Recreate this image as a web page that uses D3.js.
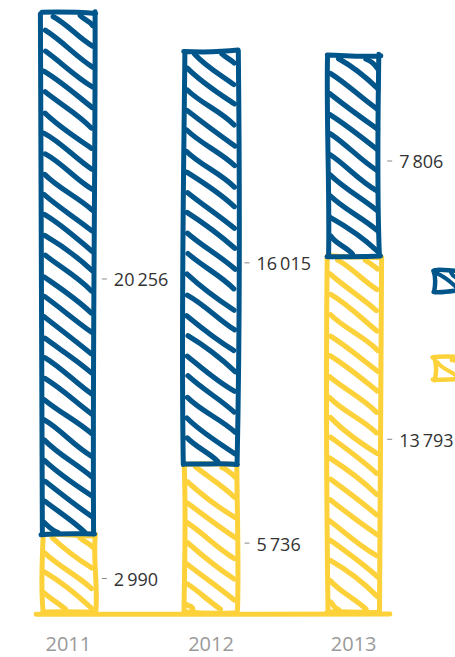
<!DOCTYPE html>
<html><head><meta charset="utf-8">
<script src="https://cdn.jsdelivr.net/npm/d3@7"></script>
<style>
html,body{margin:0;padding:0;background:#fff;overflow:hidden}
svg{display:block}
</style></head>
<body>
<svg id="chart" width="455" height="657"></svg>
<script>
// ---- data ----
const years = ["2011", "2012", "2013"];
const bottomValues = [2990, 5736, 13793];   // yellow series
const topValues = [20256, 16015, 7806];     // blue series
const seriesColors = ["#fcd13a", "#00558b"];

// ---- setup ----
const svg = d3.select("#chart");
const y = d3.scaleLinear().domain([0, 23750]).range([612, 0]);
const x = d3.scaleBand().domain(years).range([-1, 423]).paddingInner(0.628).paddingOuter(0.3);
const fmt = d3.formatLocale({decimal: ",", thousands: "\u2009", grouping: [3], currency: ["", ""]}).format(",d");

// seeded PRNG for hand-drawn wobble
function mulberry32(a){return function(){a|=0;a=a+0x6D2B79F5|0;let t=Math.imul(a^a>>>15,1|a);t=t+Math.imul(t^t>>>7,61|t)^t;return((t^t>>>14)>>>0)/4294967296;}}
const rnd = mulberry32(4242);
const j = (r) => (rnd() * 2 - 1) * r;

function roughLine(x1, y1, x2, y2, r, bow) {
  const ax = x1 + j(r), ay = y1 + j(r), bx = x2 + j(r), by = y2 + j(r);
  const len = Math.hypot(bx - ax, by - ay) || 1;
  const nx = -(by - ay) / len, ny = (bx - ax) / len;
  const b1 = j(bow), b2 = j(bow);
  const c1x = ax + (bx - ax) * 0.33 + nx * b1, c1y = ay + (by - ay) * 0.33 + ny * b1;
  const c2x = ax + (bx - ax) * 0.66 + nx * b2, c2y = ay + (by - ay) * 0.66 + ny * b2;
  return `M${ax.toFixed(1)},${ay.toFixed(1)}C${c1x.toFixed(1)},${c1y.toFixed(1)} ${c2x.toFixed(1)},${c2y.toFixed(1)} ${bx.toFixed(1)},${by.toFixed(1)}`;
}

function roughRect(g, x0, y0, x1, y1, color, sw, hw, vgap) {
  // hatching "\" direction
  const slope = 0.76, inset = 3;
  const ix0 = x0 + inset, ix1 = x1 - inset, iy0 = y0 + inset, iy1 = y1 - inset;
  const w = ix1 - ix0, h = iy1 - iy0;
  let d = "";
  for (let c = -w * slope + vgap * 0.45; c < h; c += vgap) {
    const xs = Math.max(ix0, ix0 + (-c) / slope);
    const xe = Math.min(ix1, ix0 + (h - c) / slope);
    if (xe - xs < 4) continue;
    const ys = iy0 + c + slope * (xs - ix0);
    const ye = iy0 + c + slope * (xe - ix0);
    d += roughLine(xs, ys, xe, ye, 0.8, 3.2);
  }
  g.append("path").attr("d", d).attr("fill", "none").attr("stroke", color)
    .attr("stroke-width", hw).attr("stroke-linecap", "round");
  // outline
  const o = roughLine(x0, y0, x1, y0, 1.5, 2) + roughLine(x1, y0, x1, y1, 1.5, 3) +
            roughLine(x1, y1, x0, y1, 1.5, 2) + roughLine(x0, y1, x0, y0, 1.5, 3);
  g.append("path").attr("d", o).attr("fill", "none").attr("stroke", color)
    .attr("stroke-width", sw).attr("stroke-linecap", "round").attr("stroke-linejoin", "round");
}

const bars = svg.append("g");
const labels = svg.append("g");

years.forEach((yr, i) => {
  const x0 = x(yr), x1 = x(yr) + x.bandwidth();
  const stack = [[0, bottomValues[i]], [bottomValues[i], bottomValues[i] + topValues[i]]];
  const vals = [bottomValues[i], topValues[i]];
  stack.forEach((s, k) => {
    roughRect(bars.append("g"), x0, y(s[1]), x1, y(s[0]), seriesColors[k], 5, 5.2, 20.5);
    const my = (y(s[0]) + y(s[1])) / 2 + 6;
    labels.append("line").attr("x1", x1 + 7).attr("x2", x1 + 12).attr("y1", my - 1).attr("y2", my - 1)
      .attr("stroke", "#888").attr("stroke-width", 1);
    labels.append("text").attr("x", x1 + 19).attr("y", my).attr("dy", "0.36em")
      .attr("font-family", "'Open Sans', sans-serif").attr("font-size", 18).attr("fill", "#333")
      .text(fmt(vals[k]));
  });
});

// x axis (hand-drawn yellow line)
svg.append("path").attr("d", roughLine(36, y(0) + 2, 390, y(0) + 2, 1, 2))
  .attr("fill", "none").attr("stroke", seriesColors[0]).attr("stroke-width", 5).attr("stroke-linecap", "round");

svg.append("g").selectAll("text").data(years).join("text")
  .attr("x", d => x(d) + x.bandwidth() / 2).attr("y", 651)
  .attr("text-anchor", "middle").attr("font-family", "'Open Sans', sans-serif")
  .attr("font-size", 20).attr("fill", "#9a9a9a").text(d => d);

// legend icons (text off-canvas)
const legend = svg.append("g");
[seriesColors[1], seriesColors[0]].forEach((c, i) => {
  roughRect(legend.append("g"), 434, 270 + i * 88, 462, 291 + i * 88, c, 4.5, 4, 12);
});
</script>
</body></html>
